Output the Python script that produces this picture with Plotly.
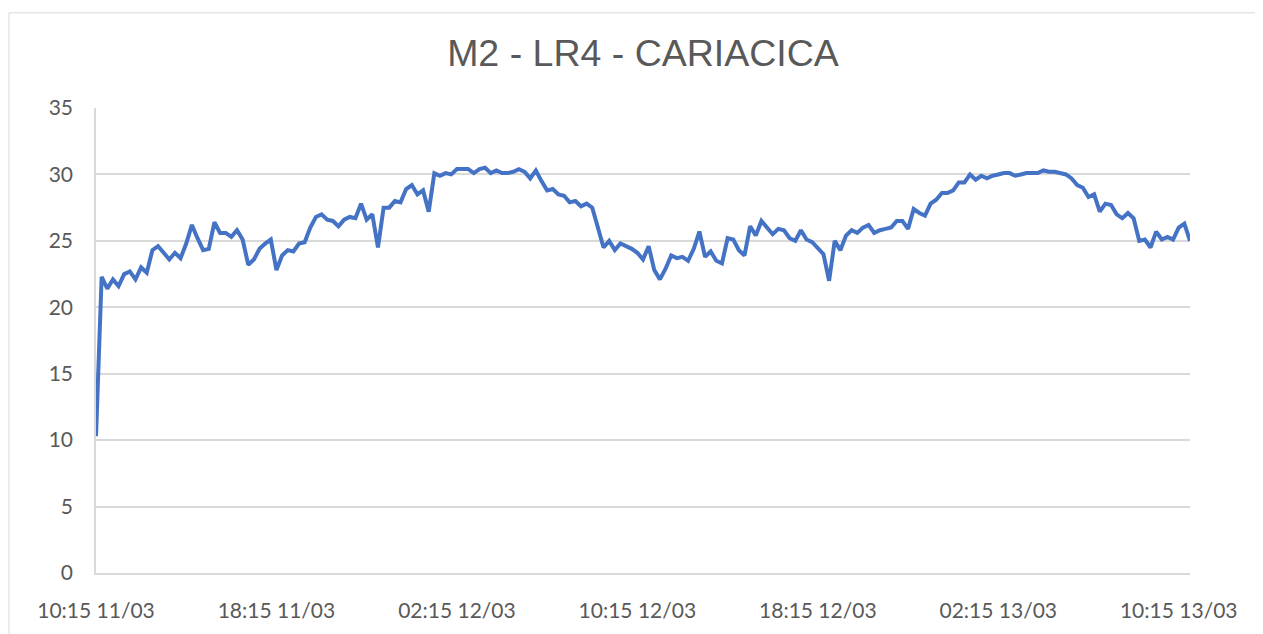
import pandas as pd
import plotly.graph_objects as go

title_text = "M2 - LR4 - CARIACICA"
start_time = "2024-03-11 10:15"
step = "15min"

values = [
    10.3, 22.3, 21.4, 22.1, 21.6, 22.5, 22.7, 22.1, 23.0, 22.6,
    24.3, 24.6, 24.1, 23.6, 24.1, 23.7, 24.8, 26.2, 25.2, 24.3,
    24.4, 26.4, 25.6, 25.6, 25.3, 25.8, 25.1, 23.2, 23.6, 24.4,
    24.8, 25.1, 22.8, 23.9, 24.3, 24.2, 24.8, 24.9, 26.0, 26.8,
    27.0, 26.6, 26.5, 26.1, 26.6, 26.8, 26.7, 27.8,
    26.6, 27.0, 24.5, 27.5, 27.5, 28.0, 27.9, 28.9, 29.2, 28.5,
    28.8, 27.2, 30.1, 29.9, 30.1, 30.0, 30.4, 30.4, 30.4, 30.1,
    30.4, 30.5, 30.1, 30.3, 30.1, 30.1, 30.2, 30.4, 30.2, 29.7,
    30.3, 29.5, 28.8, 28.9, 28.5, 28.4, 27.9, 28.0, 27.6, 27.8,
    27.5, 26.0, 24.5, 25.0, 24.3, 24.8, 24.6, 24.4, 24.1, 23.6,
    24.6, 22.8, 22.1, 22.9, 23.9, 23.7, 23.8, 23.5, 24.4, 25.7,
    23.8, 24.2, 23.5, 23.3, 25.2, 25.1, 24.3, 23.9, 26.1, 25.4,
    26.5, 26.0, 25.5, 25.9, 25.8, 25.2, 25.0, 25.8, 25.1, 24.9,
    24.4, 24.0, 22.0, 25.0, 24.3, 25.4, 25.8, 25.6, 26.0, 26.2,
    25.6, 25.8, 25.9, 26.0, 26.5, 26.5, 25.9, 27.4, 27.1, 26.9,
    27.8, 28.1, 28.6, 28.6, 28.8, 29.4, 29.4, 30.0, 29.6, 29.9,
    29.7, 29.9, 30.0, 30.1, 30.1, 29.9, 30.0, 30.1, 30.1, 30.1,
    30.3, 30.2, 30.2, 30.1, 30.0, 29.7, 29.2, 29.0, 28.3, 28.5,
    27.2, 27.8, 27.7, 27.0, 26.7, 27.1, 26.7, 25.0, 25.1, 24.5,
    25.7, 25.1, 25.3, 25.1, 26.0, 26.3, 25.0,
]

tick_labels = ["10:15 11/03", "18:15 11/03", "02:15 12/03", "10:15 12/03",
               "18:15 12/03", "02:15 13/03", "10:15 13/03"]
tick_every = 32
y_ticks = [0, 5, 10, 15, 20, 25, 30, 35]

times = pd.date_range(start=start_time, periods=len(values), freq=step)
tick_positions = [times[i * tick_every] for i in range(len(tick_labels))]

# page has an 8px body margin; figure coordinates = page coordinates - 8
OFF = 8
W, H = 1263 - OFF, 634 - OFF
L = 96 - OFF
T = 108 - OFF
R = W - (1190 - OFF)
B = H - (573 - OFF) - 4
pw, ph = W - L - R, H - T - B

fig = go.Figure()
fig.add_trace(go.Scatter(
    x=times, y=values, mode="lines",
    line=dict(color="#4472C4", width=4),
    hoverinfo="x+y", showlegend=False,
))

def px_x(px):
    return (px - OFF - L) / pw

def px_y(py):
    return (H - B - (py - OFF)) / ph

fig.add_shape(type="rect", xref="paper", yref="paper",
              x0=px_x(9), x1=px_x(1280), y0=px_y(660), y1=px_y(12),
              line=dict(color="#d9d9d9", width=1), layer="below")

fig.update_layout(
    width=W, height=H,
    margin=dict(l=L, r=R, t=T, b=B),
    paper_bgcolor="white", plot_bgcolor="white",
    title=dict(text=title_text, x=0.5, xref="paper", xanchor="center",
               y=1 - (53 - OFF) / H, yref="container", yanchor="middle",
               font=dict(family="Liberation Sans, Arial", size=37.5, color="#595959")),
)
fig.update_xaxes(
    range=[times[0], times[-1]],
    tickvals=tick_positions, ticktext=tick_labels,
    showgrid=False, zeroline=False,
    showline=True, linecolor="#d9d9d9", linewidth=1.5,
    ticks="", ticklabelstandoff=18,
    tickfont=dict(family="Lato, Open Sans", size=21, color="#595959"),
)
fig.update_yaxes(
    range=[0, 35], tickvals=y_ticks,
    showgrid=True, gridcolor="#d9d9d9", gridwidth=1.5,
    zeroline=False,
    showline=True, linecolor="#d9d9d9", linewidth=1.5,
    ticks="", ticklabelstandoff=17,
    tickfont=dict(family="Lato, Open Sans", size=21, color="#595959"),
)

fig.write_html("out.html")
